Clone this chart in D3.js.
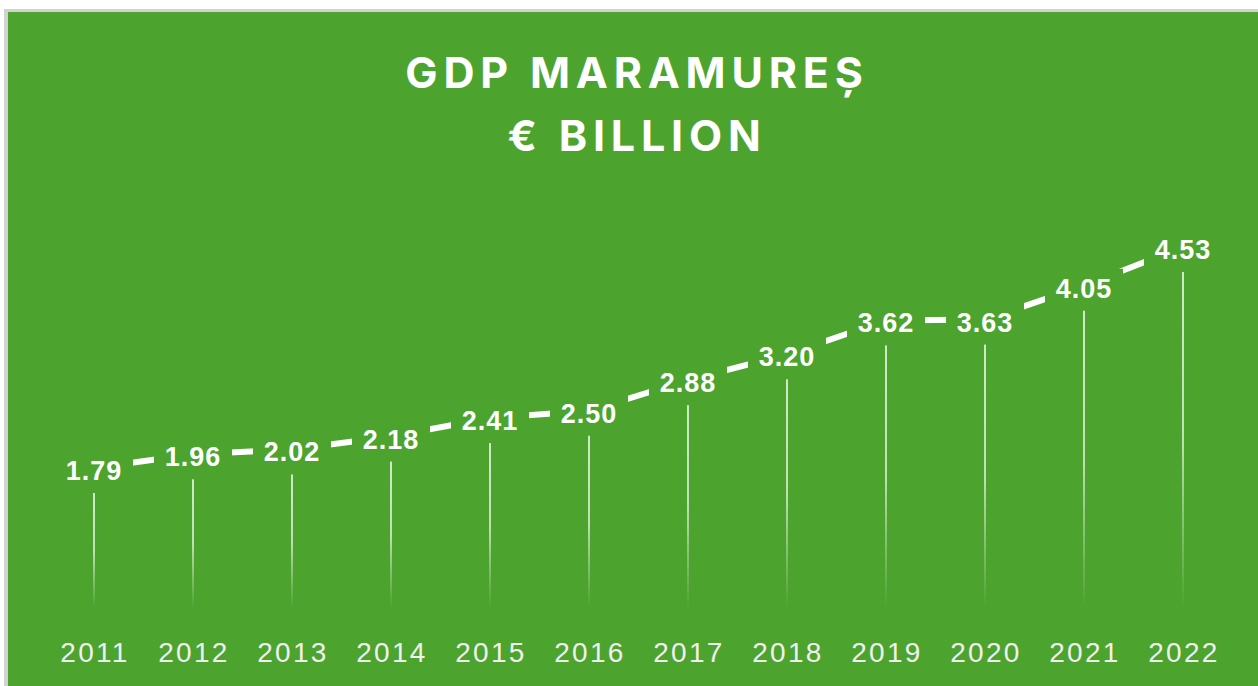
<!DOCTYPE html>
<html>
<head>
<meta charset="utf-8">
<script src="https://cdn.jsdelivr.net/npm/d3@7"></script>
<style>
  body { margin: 0; background: #fff; }
  svg { display: block; }
</style>
</head>
<body>
<div id="chart"></div>
<script>
// data
var years = ['2011','2012','2013','2014','2015','2016','2017','2018','2019','2020','2021','2022']
var gdp = [1.79, 1.96, 2.02, 2.18, 2.41, 2.50, 2.88, 3.20, 3.62, 3.63, 4.05, 4.53]
var titleLines = ['GDP MARAMUREȘ', '€ BILLION']

var W = 1258, H = 686
var green = '#4ca42e'

var svg = d3.select('#chart').append('svg')
  .attr('width', W)
  .attr('height', H)

// frame
svg.append('rect').attr('x', 4).attr('y', 9).attr('width', W).attr('height', H).attr('fill', '#d2d2d2')
svg.append('rect').attr('x', 8).attr('y', 12).attr('width', W).attr('height', H).attr('fill', green)

// scales
var x = d3.scalePoint().domain(years).range([94, 1183])
var y = d3.scaleLinear().domain([0, 5]).range([637.4, 234.1])
var bottom = 608
var lineOff = 25   // connecting line above the value
var textOff = 13   // label baseline above the value

// drop line gradient
var grad = svg.append('defs').append('linearGradient')
  .attr('id', 'fade')
  .attr('x1', 0).attr('y1', 0).attr('x2', 0).attr('y2', 1)
grad.append('stop').attr('offset', '0%').attr('stop-color', '#fff').attr('stop-opacity', 0.75)
grad.append('stop').attr('offset', '50%').attr('stop-color', '#fff').attr('stop-opacity', 0.65)
grad.append('stop').attr('offset', '100%').attr('stop-color', '#fff').attr('stop-opacity', 0)

svg.selectAll('.drop')
  .data(gdp).enter()
  .append('rect')
  .attr('class', 'drop')
  .attr('x', function(d, i) { return x(years[i]) - 1 })
  .attr('y', function(d) { return y(d) })
  .attr('width', 2)
  .attr('height', function(d) { return bottom - y(d) })
  .attr('fill', 'url(#fade)')

// connecting line (covered by label boxes)
var line = d3.line()
  .x(function(d, i) { return x(years[i]) })
  .y(function(d) { return y(d) - lineOff })

svg.append('path')
  .datum(gdp)
  .attr('d', line)
  .attr('fill', 'none')
  .attr('stroke', '#fff')
  .attr('stroke-width', 6)

var lab = svg.selectAll('.lab')
  .data(gdp).enter()
  .append('g')
  .attr('class', 'lab')
  .attr('transform', function(d, i) { return 'translate(' + x(years[i]) + ',' + y(d) + ')' })

lab.append('rect')
  .attr('x', -39).attr('y', -42)
  .attr('width', 78).attr('height', 36)
  .attr('fill', green)

lab.append('text')
  .attr('text-anchor', 'middle')
  .attr('y', -textOff)
  .attr('fill', '#fff')
  .style('font-family', 'Liberation Sans, Arial, sans-serif')
  .style('font-weight', 'bold')
  .style('font-size', '27px')
  .style('letter-spacing', '1px')
  .text(function(d) { return d.toFixed(2) })

// year axis labels
svg.selectAll('.year')
  .data(years).enter()
  .append('text')
  .attr('class', 'year')
  .attr('x', function(d) { return x(d) + 1 })
  .attr('y', 662)
  .attr('text-anchor', 'middle')
  .attr('fill', '#f0f0f0')
  .style('font-family', 'Liberation Sans, Arial, sans-serif')
  .style('font-size', '28px')
  .style('letter-spacing', '2.3px')
  .text(function(d) { return d })

// title
svg.selectAll('.title')
  .data(titleLines).enter()
  .append('text')
  .attr('class', 'title')
  .attr('x', 637)
  .attr('y', function(d, i) { return 88 + i * 63 })
  .attr('text-anchor', 'middle')
  .attr('fill', '#fff')
  .style('font-family', 'Inter, sans-serif')
  .style('font-weight', 'bold')
  .style('font-size', '43px')
  .style('letter-spacing', '5.8px')
  .text(function(d) { return d })
</script>
</body>
</html>
